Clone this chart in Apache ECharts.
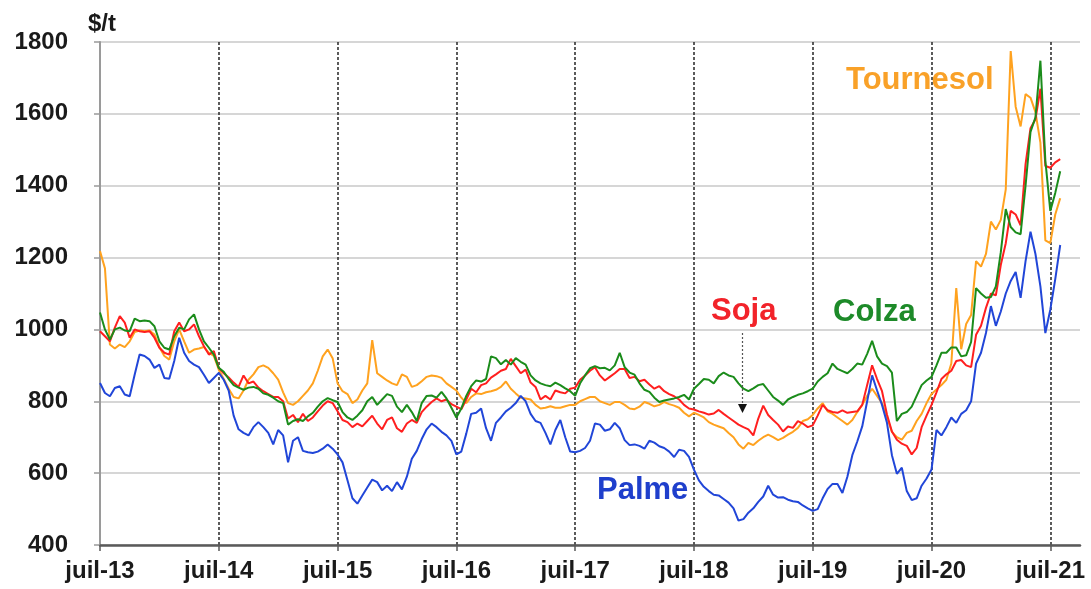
<!DOCTYPE html>
<html>
<head>
<meta charset="utf-8">
<title>Huiles végétales $/t</title>
<script src="https://cdn.jsdelivr.net/npm/echarts@6/dist/echarts.min.js"></script>
<style>
  html, body { margin: 0; padding: 0; background: #fff; }
  #chart { width: 1091px; height: 589px; }
</style>
</head>
<body>
<div id="chart"></div>
<script>
// prix des huiles, un point tous les demi-mois depuis juil-13
const tickLabels = ["juil-13", "juil-14", "juil-15", "juil-16", "juil-17", "juil-18", "juil-19", "juil-20", "juil-21"];
const moisFr = ["janv", "févr", "mars", "avr", "mai", "juin", "juil", "août", "sept", "oct", "nov", "déc"];

const tournesol = [
  1218, 1170, 958, 947, 958, 951, 967, 993, 997, 995, 997, 986, 951, 926, 916, 967, 1000, 967, 935, 944, 947, 951, 935, 926,
  888, 862, 835, 812, 808, 830, 860, 875, 895, 900, 893, 878, 860, 825, 795, 790, 800, 815, 830, 850, 885, 925, 944, 920,
  850, 828, 820, 795, 805, 830, 850, 970, 878, 868, 858, 850, 845, 875, 868, 840, 845, 856, 868, 872, 870, 865, 850, 840,
  830, 810, 795, 812, 822, 820, 825, 828, 832, 840, 855, 835, 822, 810, 808, 805, 790, 780, 782, 786, 782, 782, 786, 790,
  790, 800, 806, 812, 812, 800, 795, 790, 798, 798, 790, 780, 778, 785, 798, 793, 786, 790, 798, 792, 788, 782, 768, 758,
  768, 762, 755, 742, 735, 730, 725, 712, 700, 680, 668, 684, 678, 690, 700, 707, 700, 692, 698, 707, 715, 726, 745, 750,
  762, 780, 795, 772, 765, 755, 745, 735, 748, 770, 790, 815, 835, 815, 795, 755, 715, 700, 693, 712, 718, 745, 765, 795,
  820, 833, 845, 860, 905, 1115, 945, 1015, 1040, 1190, 1175, 1210, 1300, 1278, 1305, 1390, 1775, 1620, 1565, 1655, 1645, 1605, 1520, 1248, 1240, 1320, 1365
];

const soja = [
  995, 981, 967, 1005, 1037, 1019, 977, 1000, 995, 993, 995, 977, 949, 935, 930, 995, 1019, 995, 1000, 1014, 981, 953, 930, 940,
  893, 878, 866, 852, 840, 872, 850, 855, 838, 828, 820, 812, 812, 800, 752, 762, 742, 765, 745, 755, 772, 788, 800, 795,
  772, 748, 742, 728, 738, 730, 745, 760, 738, 722, 748, 755, 725, 715, 738, 748, 740, 770, 785, 798, 808, 800, 805, 792,
  785, 778, 805, 835, 825, 845, 850, 866, 875, 885, 890, 918, 898, 878, 888, 852, 840, 805, 815, 805, 830, 825, 822, 835,
  838, 860, 872, 885, 895, 872, 858, 868, 878, 890, 890, 865, 868, 856, 860, 847, 835, 842, 828, 820, 814, 805, 790, 780,
  777, 772, 768, 763, 766, 776, 765, 755, 745, 735, 728, 722, 705, 752, 788, 762, 748, 735, 716, 730, 726, 745, 738, 728,
  733, 760, 790, 775, 770, 768, 775, 768, 770, 772, 790, 845, 900, 862, 828, 763, 716, 693, 682, 676, 652, 670, 728, 760,
  790, 825, 862, 875, 885, 912, 915, 900, 895, 985, 1010, 1060, 1100, 1095, 1180, 1240, 1330, 1320, 1290, 1460, 1560, 1585, 1670, 1455, 1450, 1465, 1474
];

const colza = [
  1047, 1000, 972, 1000, 1005, 997, 995, 1030, 1023, 1025, 1023, 1009, 967, 949, 944, 981, 1005, 1000, 1028, 1042, 1000, 967, 949, 930,
  893, 882, 862, 845, 838, 832, 838, 840, 835, 822, 818, 810, 800, 795, 735, 745, 750, 745, 758, 768, 785, 800, 809, 803,
  798, 770, 755, 748, 760, 775, 800, 812, 790, 805, 820, 815, 785, 770, 790, 770, 745, 795, 815, 816, 810, 826, 808, 782,
  755, 780, 815, 842, 858, 855, 862, 925, 920, 903, 915, 902, 920, 910, 902, 872, 858, 850, 845, 842, 852, 845, 836, 828,
  815, 850, 872, 892, 898, 892, 893, 886, 900, 935, 895, 880, 874, 850, 832, 826, 810, 798, 802, 805, 808, 812, 818, 805,
  835, 848, 862, 860, 850, 870, 880, 872, 868, 850, 835, 828, 836, 845, 848, 830, 812, 802, 790, 805, 812, 818, 822, 828,
  835, 855, 868, 878, 905, 890, 884, 878, 890, 905, 902, 932, 968, 925, 905, 898, 880, 745, 765, 770, 785, 815, 845, 858,
  868, 900, 935, 935, 950, 950, 925, 928, 965, 1115, 1100, 1088, 1090, 1120, 1215, 1335, 1285, 1270, 1265, 1400, 1550, 1590, 1748, 1470, 1330, 1380, 1440
];

const palme = [
  851, 823, 814, 837, 842, 819, 814, 874, 930, 926, 916, 893, 902, 865, 863, 912, 977, 935, 912, 902, 895, 874, 851, 865,
  879, 860, 830, 760, 722, 712, 705, 728, 742, 728, 712, 680, 720, 705, 630, 690, 700, 662, 658, 656, 660, 668, 680, 668,
  652, 630, 580, 530, 515, 538, 560, 582, 575, 552, 565, 550, 575, 555, 590, 640, 662, 695, 722, 738, 728, 715, 705, 690,
  652, 660, 710, 765, 768, 780, 725, 690, 740, 755, 772, 782, 795, 815, 800, 765, 745, 740, 712, 680, 720, 748, 700, 660,
  658, 662, 670, 690, 738, 735, 718, 722, 740, 725, 692, 678, 680, 676, 668, 690, 685, 675, 670, 660, 645, 665, 662, 645,
  610, 580, 562, 550, 540, 538, 528, 518, 502, 468, 472, 490, 502, 520, 535, 565, 540, 532, 533, 526, 522, 520, 510, 502,
  495, 500, 530, 556, 570, 570, 545, 590, 650, 688, 730, 800, 872, 830, 790, 740, 650, 598, 615, 550, 525, 530, 565, 585,
  610, 720, 705, 728, 755, 740, 765, 775, 800, 905, 935, 990, 1065, 1010, 1050, 1100, 1135, 1160, 1088, 1190, 1272, 1210, 1120, 990, 1055, 1140, 1235
];

// axe des dates : demi-mois de juil-13 à oct-21
const categories = [];
for (let i = 0; i < 199; i++) {
  const m = 6 + Math.floor(i / 2);
  const yy = 13 + Math.floor(m / 12);
  categories.push((i % 2 ? "15 " : "01 ") + moisFr[m % 12] + "-" + yy);
}

const isYearTick = (index) => index % 24 === 0;
const FONT = '"Liberation Sans", Arial, sans-serif';

const chart = echarts.init(document.getElementById("chart"));

const option = {
  animation: false,
  backgroundColor: "#ffffff",
  grid: { left: 100, right: 11, top: 42, bottom: 44, containLabel: false },
  xAxis: {
    type: "category",
    boundaryGap: false,
    data: categories,
    axisLine: { lineStyle: { color: "#5a5a5a", width: 2.5 } },
    axisTick: {
      show: true,
      interval: (index) => isYearTick(index),
      length: 6,
      lineStyle: { color: "#5a5a5a", width: 1.5 },
    },
    axisLabel: {
      interval: (index) => isYearTick(index),
      formatter: (value, index) => tickLabels[index / 24] || "",
      fontFamily: FONT,
      fontWeight: "bold",
      fontSize: 24,
      color: "#1a1a1a",
      margin: 14,
    },
    splitLine: {
      show: true,
      interval: (index) => isYearTick(index) && index > 0,
      lineStyle: { color: "#333333", width: 1.6, type: [3, 2] },
    },
  },
  yAxis: {
    type: "value",
    min: 400,
    max: 1800,
    interval: 200,
    name: "$/t",
    nameLocation: "end",
    nameGap: 6,
    nameTextStyle: { fontFamily: FONT, fontWeight: "bold", fontSize: 24, color: "#1a1a1a", align: "left", padding: [0, 0, 0, -12] },
    axisLine: { show: true, lineStyle: { color: "#9a9a9a", width: 2 } },
    axisTick: { show: true, length: 6, lineStyle: { color: "#9a9a9a", width: 1.5 } },
    axisLabel: {
      formatter: (v) => String(v),
      fontFamily: FONT,
      fontWeight: "bold",
      fontSize: 24,
      color: "#1a1a1a",
      margin: 32,
    },
    splitLine: { show: true, lineStyle: { color: "#c8c8c8", width: 1.5 } },
  },
  series: [
    { name: "Tournesol", type: "line", data: tournesol, showSymbol: false, symbol: "none", lineStyle: { color: "#ffa21f", width: 2 }, z: 2 },
    { name: "Soja", type: "line", data: soja, showSymbol: false, symbol: "none", lineStyle: { color: "#ff1f1f", width: 2 }, z: 3 },
    { name: "Colza", type: "line", data: colza, showSymbol: false, symbol: "none", lineStyle: { color: "#1b8c1b", width: 2 }, z: 4 },
    { name: "Palme", type: "line", data: palme, showSymbol: false, symbol: "none", lineStyle: { color: "#2146d8", width: 2 }, z: 5 },
  ],
  graphic: [
    { type: "text", x: 846, y: 80, style: { text: "Tournesol", fill: "#f9a128", font: "bold 31px " + FONT, verticalAlign: "middle" } },
    { type: "text", x: 711, y: 311, style: { text: "Soja", fill: "#f2232a", font: "bold 31px " + FONT, verticalAlign: "middle" } },
    { type: "text", x: 833, y: 312, style: { text: "Colza", fill: "#1d8a29", font: "bold 31px " + FONT, verticalAlign: "middle" } },
    { type: "text", x: 597, y: 490, style: { text: "Palme", fill: "#1f3fcc", font: "bold 31px " + FONT, verticalAlign: "middle" } },
    // flèche pointillée sous "Soja"
    { type: "line", shape: { x1: 742.5, y1: 333, x2: 742.5, y2: 405 }, style: { stroke: "#555", lineWidth: 1.2, lineDash: [2, 2] }, z: 10 },
    { type: "polygon", shape: { points: [[738, 404], [747, 404], [742.5, 413]] }, style: { fill: "#111" }, z: 10 },
  ],
};

chart.setOption(option);
</script>
</body>
</html>
